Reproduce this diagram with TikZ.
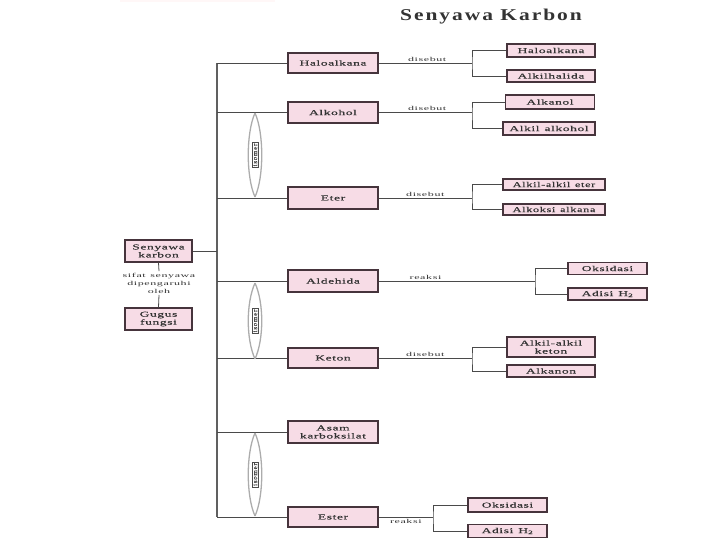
\documentclass[tikz,border=0pt]{standalone}
\usepackage{fontspec}
\usetikzlibrary{calc}
\setmainfont{Liberation Serif}
\newfontfamily\bxfont[FakeStretch=1.8, LetterSpace=8, FakeBold=0.5]{Liberation Serif}
\newfontfamily\bxnfont[FakeStretch=1.65, LetterSpace=8, FakeBold=0.5]{Liberation Serif}
\newfontfamily\lbfont[FakeStretch=2, LetterSpace=10]{Liberation Serif}
\newfontfamily\isofont[FakeStretch=1.1, LetterSpace=10, FakeBold=0.6]{Liberation Serif}
\newfontfamily\ttlfont[FakeStretch=1.3, LetterSpace=12]{Liberation Serif}
\newcommand{\wsp}{\hspace{1pt}\space}
\definecolor{boxpink}{HTML}{F7DCE6}
\definecolor{boxline}{HTML}{46343C}
\definecolor{connc}{HTML}{4A4A4A}
\begin{document}
\begin{tikzpicture}[x=1pt,y=-1pt,
  box/.style={draw=boxline, line width=1.3pt, fill=boxpink, inner sep=0pt, align=center,
    font=\bxfont\fontsize{7.5}{8}\selectfont, text=black!80},
  mainbox/.style={box, minimum width=90pt, minimum height=21pt},
  subbox/.style={box, minimum height=12pt},
  conn/.style={draw=connc, line width=0.8pt},
  spine/.style={draw=gray!75!black, line width=2pt},
  lbl/.style={font=\lbfont\fontsize{6}{7}\selectfont, text=gray!40!black, inner sep=1.5pt},
  lens/.style={draw=gray!65, line width=1.3pt},
  iso/.style={fill=white, draw=gray!60!black, line width=0.5pt, rotate=90, inner sep=1pt,
    font=\isofont\fontsize{6.5}{6.5}\selectfont, text=black!75}
]
\useasboundingbox (0,0) rectangle (728,546);
\fill[pink!12] (120,0) rectangle (275,2);

\node[font=\ttlfont\bfseries\fontsize{16.5}{18}\selectfont, text=black!80] (title) at (491,17) {Senyawa Karbon};

% left part
\node[box, minimum width=67pt, minimum height=22pt] (sk) at (158.5,251) {Senyawa\\karbon};
\node[lbl, align=center, font=\lbfont\fontsize{6}{8}\selectfont] (note) at (159,283) {sifat\wsp senyawa\\dipengaruhi\\oleh};
\node[box, minimum width=67pt, minimum height=22pt] (gg) at (158.5,319) {Gugus\\fungsi};
\draw[conn] (sk.south) -- (note.north);
\draw[conn] (note.south) -- (gg.north);

% spine
\coordinate (sTop) at (217,63);
\coordinate (sBot) at (217,517);
\draw[spine] (sTop) -- (sBot);
\draw[conn] (sk.east) -- (sk.east -| sTop);

% main boxes
\node[mainbox, minimum height=20pt] (halo) at (333,63) {Haloalkana};
\node[mainbox] (alko) at (333,112.5) {Alkohol};
\node[mainbox, minimum height=22pt] (eter) at (333,198) {Eter};
\node[mainbox, minimum height=22pt] (alde) at (333,281) {Aldehida};
\node[mainbox, minimum height=20pt] (keton) at (333,358) {Keton};
\node[mainbox, minimum height=22pt] (asam) at (333,432) {Asam\\karboksilat};
\node[mainbox, minimum height=20pt] (ester) at (333,517) {Ester};

\foreach \n in {halo,alko,eter,alde,keton,asam,ester}
  \draw[conn] (\n.west) -- (\n.west -| sTop);

% right boxes
\node[subbox, minimum width=88pt, minimum height=13pt] (h1) at (551,50.5) {Haloalkana};
\node[subbox, minimum width=88pt] (h2) at (551,76) {Alkilhalida};
\node[subbox, minimum width=89pt, minimum height=14pt] (a1) at (550,102) {Alkanol};
\node[subbox, minimum width=92pt, minimum height=13pt] (a2) at (549,128.5) {Alkil\wsp alkohol};
\node[subbox, minimum width=102pt, minimum height=11pt, font=\bxnfont\fontsize{7.5}{8}\selectfont] (e1) at (554,184.5) {Alkil-alkil\wsp eter};
\node[subbox, minimum width=102pt, minimum height=11pt, font=\bxnfont\fontsize{7.5}{8}\selectfont] (e2) at (554,209.5) {Alkoksi\wsp alkana};
\node[subbox, minimum width=79pt] (d1) at (607.5,268.5) {Oksidasi};
\node[subbox, minimum width=79pt] (d2) at (607.5,294) {Adisi\wsp H\textsubscript{2}};
\node[subbox, minimum width=88pt, minimum height=20pt] (k1) at (551,347) {Alkil-alkil\\keton};
\node[subbox, minimum width=88pt] (k2) at (551,371) {Alkanon};
\node[subbox, minimum width=79pt, minimum height=14pt] (s1) at (507.5,505) {Oksidasi};
\node[subbox, minimum width=79pt, minimum height=13pt] (s2) at (507.5,531) {Adisi\wsp H\textsubscript{2}};

% bracket connectors
\coordinate (bh) at (472,63);
\coordinate (ba) at (472,112.5);
\coordinate (be) at (472,198);
\coordinate (bd) at (535,281);
\coordinate (bk) at (472,358);
\coordinate (bs) at (433,517);

\draw[conn] (halo.east) -- node[lbl, above, pos=0.52] {disebut} (bh);
\draw[conn] (h1.west) -| (bh) |- (h2.west);
\draw[conn] (alko.east) -- node[lbl, above, pos=0.52] {disebut} (ba);
\draw[conn] (a1.west) -| (ba) |- (a2.west);
\draw[conn] (eter.east) -- node[lbl, above, pos=0.5] {disebut} (be);
\draw[conn] (e1.west) -| (be) |- (e2.west);
\draw[conn] (alde.east) -- node[lbl, above, pos=0.3] {reaksi} (bd);
\draw[conn] (d1.west) -| (bd) |- (d2.west);
\draw[conn] (keton.east) -- node[lbl, above, pos=0.5] {disebut} (bk);
\draw[conn] (k1.west) -| (bk) |- (k2.west);
\draw[conn] (ester.east) -- node[lbl, below, pos=0.5] {reaksi} (bs);
\draw[conn] (s1.west) -| (bs) |- (s2.west);

% isomer lenses
\coordinate (i1t) at (255,113); \coordinate (i1b) at (255,197);
\coordinate (i2t) at (255,283); \coordinate (i2b) at (255,359);
\coordinate (i3t) at (255,433); \coordinate (i3b) at (255,516);
\foreach \t/\b in {i1t/i1b, i2t/i2b, i3t/i3b}{
  \draw[lens] (\t) .. controls ([xshift=-9pt,yshift=-20pt]\t) and ([xshift=-9pt,yshift=20pt]\b) .. (\b);
  \draw[lens] (\t) .. controls ([xshift=9pt,yshift=-20pt]\t) and ([xshift=9pt,yshift=20pt]\b) .. (\b);
  \node[iso] at ($(\t)!0.5!(\b)$) {isomer};
}
\end{tikzpicture}
\end{document}
